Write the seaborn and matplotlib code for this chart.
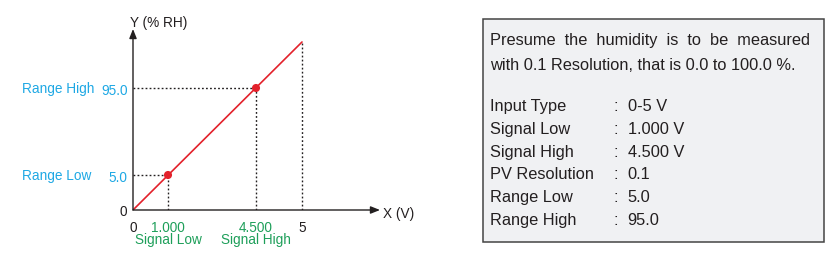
import numpy as np
import pandas as pd
import matplotlib
matplotlib.use("Agg")
import matplotlib.pyplot as plt
import seaborn as sns

# ---------------- data ----------------
line_x = [0.0, 5.0]            # input voltage range 0-5 V
line_y = [0.0, 100.0]          # %RH range 0-100
signal_v = [1.0, 4.5]          # Signal Low, Signal High (V)
range_pct = [5.0, 95.0]        # Range Low, Range High (%RH)
signal_names = ["Signal Low", "Signal High"]
range_names = ["Range Low", "Range High"]
x_tick_values = [0.0, 1.0, 4.5, 5.0]
x_tick_labels = ["0", "1.000", "4.500", "5"]
y_tick_values = [0.0, 5.0, 95.0]
y_tick_labels = ["0", "5.0", "95.0"]
x_axis_label = "X (V)"
y_axis_label = "Y (% RH)"
intro_line1 = "Presume the humidity is to be measured"
intro_line2 = "with 0.1 Resolution, that is 0.0 to 100.0 %."
param_names = ["Input Type", "Signal Low", "Signal High", "PV Resolution", "Range Low", "Range High"]
param_values = ["0-5 V", "1.000 V", "4.500 V", "0.1", "5.0", "95.0"]

# ---------------- style ----------------
sns.set_style("white")
plt.rcParams["font.family"] = ["Liberation Sans", "DejaVu Sans"]

W, H = 833, 255
fig = plt.figure(figsize=(W / 100, H / 100), dpi=100)
fig.patch.set_facecolor("white")

DARK = "#231F20"
CYAN = "#1EA8E4"
GREEN = "#1E9F5A"
RED = "#E3212B"
FS = 9.8


def px(x, y):
    return x / W, 1 - y / H


# schematic (not-to-scale) axis mapping, as in the reference drawing
def piecewise(src, dst):
    src = np.asarray(src, float)
    dst = np.asarray(dst, float)
    s_hi = (dst[-1] - dst[-2]) / (src[-1] - src[-2])
    s_lo = (dst[1] - dst[0]) / (src[1] - src[0])

    def f(v):
        v = np.asarray(v, float)
        out = np.interp(v, src, dst)
        out = np.where(v > src[-1], dst[-1] + (v - src[-1]) * s_hi, out)
        out = np.where(v < src[0], dst[0] + (v - src[0]) * s_lo, out)
        return out
    return f


x_nodes_data, x_nodes_px = [0, 1.0, 4.5, 5.0], [0, 35, 123, 169]
y_nodes_data, y_nodes_px = [0, 5.0, 95.0, 100.0], [0, 35, 122, 168]
fx, fx_inv = piecewise(x_nodes_data, x_nodes_px), piecewise(x_nodes_px, x_nodes_data)
fy, fy_inv = piecewise(y_nodes_data, y_nodes_px), piecewise(y_nodes_px, y_nodes_data)

ox, oy = 133, 211        # origin in pixels
ax_w, ax_h = 247, 181    # axis lengths in pixels
ax = fig.add_axes([ox / W, (H - oy) / H, ax_w / W, ax_h / H])
ax.set_facecolor("none")
ax.set_xscale("function", functions=(fx, fx_inv))
ax.set_yscale("function", functions=(fy, fy_inv))
ax.set_xlim(0, float(fx_inv(ax_w)))
ax.set_ylim(0, float(fy_inv(ax_h)))

# dotted guides
dot = dict(color=DARK, lw=1.0, ls=(0, (1.3, 1.6)), zorder=1)
for xv, yv in zip(signal_v, range_pct):
    ax.plot([0, xv], [yv, yv], **dot)
    ax.plot([xv, xv], [0, yv], **dot)
ax.plot([line_x[-1], line_x[-1]], [0, line_y[-1]], **dot)

# transfer line and points
sns.lineplot(x=line_x, y=line_y, color=RED, lw=1.2, ax=ax, zorder=3)
sns.scatterplot(x=signal_v, y=range_pct, color=RED, s=34, edgecolor="none", ax=ax, zorder=4)

# axes with arrows
for s in ax.spines.values():
    s.set_visible(False)
arrow = dict(arrowstyle="-|>,head_length=0.55,head_width=0.22", color=DARK, lw=1.0,
             shrinkA=0, shrinkB=0, mutation_scale=10)
ax.annotate("", xy=(1, 0), xytext=(0, 0), xycoords="axes fraction", arrowprops=arrow)
ax.annotate("", xy=(0, 1), xytext=(0, 0), xycoords="axes fraction", arrowprops=arrow)

ax.set_xticks(x_tick_values)
ax.set_xticklabels(x_tick_labels)
ax.set_yticks(y_tick_values)
ax.set_yticklabels(y_tick_labels)
ax.tick_params(axis="x", length=0, pad=7, labelsize=FS, labelcolor=DARK)
ax.tick_params(axis="y", length=0, pad=4, labelsize=FS, labelcolor=DARK)
for lab, v in zip(ax.get_xticklabels(), x_tick_values):
    if v in signal_v:
        lab.set_color(GREEN)
for lab, v in zip(ax.get_yticklabels(), y_tick_values):
    if v in range_pct:
        lab.set_color(CYAN)
ax.grid(False)

# names under / beside ticks
for xv, nm in zip(signal_v, signal_names):
    xp = ox + float(fx(xv))
    fig.text(*px(xp, 240.5), nm, color=GREEN, fontsize=FS, ha="center", va="center")
for yv, nm in zip(range_pct, range_names):
    yp = oy - float(fy(yv))
    fig.text(*px(22, yp), nm, color=CYAN, fontsize=FS, ha="left", va="center")

fig.text(*px(383, 214.5), x_axis_label, color=DARK, fontsize=FS, ha="left", va="center")
fig.text(*px(159, 22.5), y_axis_label, color=DARK, fontsize=FS, ha="center", va="center")

# ---------------- info box ----------------
bx0, by0, bx1, by1 = 483.5, 19.7, 824.0, 242.7
box = plt.Rectangle(px(bx0, by1), (bx1 - bx0) / W, (by1 - by0) / H,
                    transform=fig.transFigure, facecolor="#F0F1F3",
                    edgecolor="#444444", lw=1.1, zorder=0)
fig.patches.append(box)

BFS = 11.8
# first line is justified in the reference: widen the word gaps
fig.text(*px(490, 45.5), "  ".join(intro_line1.split()), fontsize=BFS, color=DARK,
         ha="left", va="baseline")
fig.text(*px(490, 70.3), intro_line2, fontsize=BFS, color=DARK, ha="left", va="baseline")

row_y = [111, 133.8, 156.6, 179.4, 202.2, 225]
for yv, nm, val in zip(row_y, param_names, param_values):
    fig.text(*px(490, yv), nm, fontsize=BFS, color=DARK, ha="left", va="baseline")
    fig.text(*px(615.5, yv), ":", fontsize=BFS, color=DARK, ha="center", va="baseline")
    fig.text(*px(627.5, yv), val, fontsize=BFS, color=DARK, ha="left", va="baseline")

fig.savefig("out.png", dpi=100)
